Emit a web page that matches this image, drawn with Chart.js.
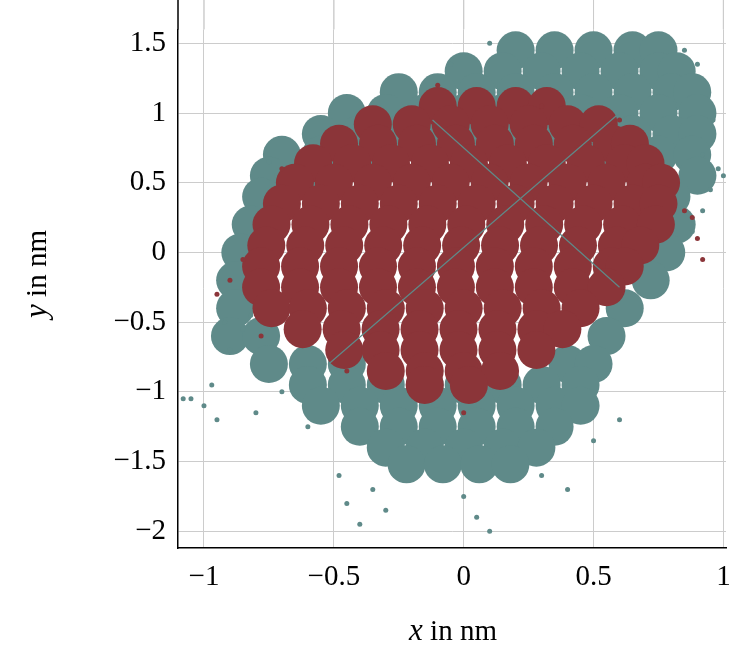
<!DOCTYPE html>
<html><head><meta charset="utf-8">
<script src="https://cdn.jsdelivr.net/npm/chart.js@4"></script>
<style>html,body{margin:0;padding:0;background:#fff}#w{width:751px;height:657px}</style>
</head><body><div id="w"><canvas id="c"></canvas></div>
<script>
const xTicks = [-1, -0.5, 0, 0.5, 1];
const yTicks = [-2, -1.5, -1, -0.5, 0, 0.5, 1, 1.5];
const tealRows = [
 [1.45,[0.2,0.35,0.5,0.65,0.75]],
 [1.3,[0.0,0.15,0.3,0.45,0.6,0.75,0.82]],
 [1.15,[-0.25,-0.1,0.05,0.2,0.35,0.5,0.65,0.8,0.88]],
 [1.0,[-0.45,-0.3,-0.15,0,0.15,0.3,0.45,0.6,0.75,0.9]],
 [0.85,[-0.55,-0.4,-0.25,-0.1,0.05,0.2,0.35,0.5,0.65,0.8,0.9]],
 [0.7,[-0.7,-0.55,-0.4,0.6,0.75,0.88]],
 [0.55,[-0.75,-0.62,0.72,0.9]],
 [0.4,[-0.78,0.8]],
 [0.2,[-0.82,0.82]],
 [0.0,[-0.86,0.78]],
 [-0.2,[-0.88,0.72]],
 [-0.4,[-0.88,0.62]],
 [-0.6,[-0.9,-0.78,0.55]],
 [-0.8,[-0.75,-0.6,-0.45,0.4,0.5]],
 [-0.95,[-0.6,-0.45,-0.3,-0.15,0,0.15,0.3,0.45]],
 [-1.1,[-0.55,-0.4,-0.25,-0.1,0.05,0.2,0.35,0.45]],
 [-1.25,[-0.4,-0.25,-0.1,0.05,0.2,0.35]],
 [-1.4,[-0.3,-0.15,0,0.15,0.28]],
 [-1.52,[-0.22,-0.08,0.06,0.18]]
];
const tealX = [1.0,0.92,0.95,0.98,0.96,0.9,0.85,0.1,-0.05,-1.0,-1.05,-0.95,-0.9,-0.85,-0.8,-0.97,-0.92,-0.75,-0.72,-0.7,-0.45,-0.4,-0.35,-0.48,-0.3,0.05,0.1,0.0,0.4,0.3,0.5,0.6,-0.6,-0.7,0.92,0.88,-1.08,-0.82];
const tealY = [0.55,0.7,0.45,0.6,0.95,1.35,1.45,1.5,1.35,-1.1,-1.05,-1.2,-0.7,-0.55,-1.15,-0.95,-0.5,0.65,0.55,0.45,-1.8,-1.95,-1.7,-1.6,-1.85,-1.9,-2.0,-1.75,-1.7,-1.6,-1.35,-1.2,-1.25,-1.0,0.3,0.15,-1.05,-0.45];
const redRows = [
 [1.05,[-0.1,0.05,0.2,0.32]],
 [0.92,[-0.35,-0.2,-0.05,0.1,0.25,0.4,0.52]],
 [0.78,[-0.48,-0.33,-0.18,-0.03,0.12,0.27,0.42,0.57,0.64]],
 [0.64,[-0.58,-0.43,-0.28,-0.13,0.02,0.17,0.32,0.47,0.62,0.7]],
 [0.5,[-0.65,-0.5,-0.35,-0.2,-0.05,0.1,0.25,0.4,0.55,0.7,0.76]],
 [0.35,[-0.7,-0.55,-0.4,-0.25,-0.1,0.05,0.2,0.35,0.5,0.65,0.75]],
 [0.2,[-0.74,-0.59,-0.44,-0.29,-0.14,0.01,0.16,0.31,0.46,0.61,0.74]],
 [0.05,[-0.76,-0.61,-0.46,-0.31,-0.16,-0.01,0.14,0.29,0.44,0.59,0.68]],
 [-0.1,[-0.78,-0.63,-0.48,-0.33,-0.18,-0.03,0.12,0.27,0.42,0.57,0.62]],
 [-0.25,[-0.78,-0.63,-0.48,-0.33,-0.18,-0.03,0.12,0.27,0.42,0.55]],
 [-0.4,[-0.74,-0.6,-0.45,-0.3,-0.15,0,0.15,0.3,0.45]],
 [-0.55,[-0.62,-0.47,-0.32,-0.17,-0.02,0.13,0.28,0.38]],
 [-0.7,[-0.46,-0.32,-0.17,-0.02,0.13,0.28]],
 [-0.85,[-0.3,-0.15,0,0.14]],
 [-0.95,[-0.15,0.02]]
];
const redX = [-0.9,-0.95,-0.85,0.9,0.92,0.85,0.88,-0.1,0.3,-0.45,0.0,0.6,-0.7,-0.78];
const redY = [-0.2,-0.3,-0.05,0.1,-0.05,0.3,0.25,1.2,1.05,-0.85,-1.15,0.95,0.6,-0.6];
const lineA = [[-0.52,-0.8],[0.6,1.0]];
const lineB = [[-0.12,0.95],[0.6,-0.25]];

const teal = '#5f8a89', red = '#8b3539';
function rows(r){const o=[];r.forEach(([y,xs])=>xs.forEach(x=>o.push({x,y})));return o;}
function pairs(xs,ys){return xs.map((x,i)=>({x,y:ys[i]}));}
const minus = v => String(v).replace('-', '\u2212');
const F = "'Liberation Serif', serif";

const titles = {id:'titles', afterDraw(ch){
  const c=ch.ctx; c.save(); c.fillStyle='#000'; c.textBaseline='alphabetic';
  const draw=(x,y,rot)=>{c.save();c.translate(x,y);c.rotate(rot);
    c.font="italic 31px "+F; const a=rot?'y':'x'; const w1=c.measureText(a).width;
    c.font="29px "+F; const w2=c.measureText(' in nm').width; let s=-(w1+w2)/2;
    c.font="italic 31px "+F; c.fillText(a,s,0); c.font="29px "+F; c.fillText(' in nm',s+w1,0); c.restore();};
  draw(453,640,0); draw(46,274,-Math.PI/2); c.restore();}};

const axisTop = {id:'axisTop', afterDraw(ch){
  const c=ch.ctx, a=ch.chartArea; c.save(); c.strokeStyle='#000'; c.lineWidth=1.5;
  c.beginPath(); c.moveTo(a.left,a.top); c.lineTo(a.left,0); c.stroke();
  c.strokeStyle='#cccccc'; c.lineWidth=1; const xs=ch.scales.x;
  xTicks.forEach(v=>{const p=xs.getPixelForValue(v); c.beginPath(); c.moveTo(p,a.top); c.lineTo(p,0); c.stroke();});
  c.restore();}, beforeDatasetsDraw(ch){
  const c=ch.ctx, a=ch.chartArea; c.save(); c.strokeStyle='#cccccc'; c.lineWidth=1; const xs=ch.scales.x;
  xTicks.forEach(v=>{const p=xs.getPixelForValue(v); c.beginPath(); c.moveTo(p,a.top); c.lineTo(p,0); c.stroke();});
  c.restore();}};

new Chart(document.getElementById('c'), {
  type:'scatter',
  data:{datasets:[
    {data:rows(tealRows), backgroundColor:teal, pointRadius:19, pointBorderWidth:0, order:4, clip:false},
    {data:pairs(tealX,tealY), backgroundColor:teal, pointRadius:2.5, pointBorderWidth:0, order:3, clip:false},
    {data:rows(redRows), backgroundColor:red, pointRadius:19, pointBorderWidth:0, order:2, clip:false},
    {data:pairs(redX,redY), backgroundColor:red, pointRadius:2.5, pointBorderWidth:0, order:1, clip:false},
    {type:'line', data:lineA.map(([x,y])=>({x,y})), borderColor:teal, borderWidth:1.2, pointRadius:0, order:0},
    {type:'line', data:lineB.map(([x,y])=>({x,y})), borderColor:teal, borderWidth:1.2, pointRadius:0, order:0}
  ]},
  options:{responsive:true, maintainAspectRatio:false, animation:false,
    layout:{padding:{top:0,right:25,left:0,bottom:0}},
    plugins:{legend:{display:false}, tooltip:{enabled:false}},
    scales:{
      x:{type:'linear', min:-1.1, max:1.01,
        afterBuildTicks:a=>{a.ticks=xTicks.map(v=>({value:v}));},
        afterFit:a=>{a.height=109;},
        grid:{color:'#cccccc', drawTicks:false, lineWidth:1},
        border:{color:'#000', width:1.5},
        ticks:{padding:12, color:'#000', font:{family:F,size:29}, callback:v=>minus(v)}},
      y:{type:'linear', min:-2.12, max:1.6,
        afterBuildTicks:a=>{a.ticks=yTicks.map(v=>({value:v}));},
        afterFit:a=>{a.width=178;},
        grid:{color:'#cccccc', drawTicks:false, lineWidth:1},
        border:{color:'#000', width:1.5},
        ticks:{padding:12, color:'#000', font:{family:F,size:29}, callback:v=>minus(v)}}
    }},
  plugins:[titles, axisTop]
});
</script></body></html>
